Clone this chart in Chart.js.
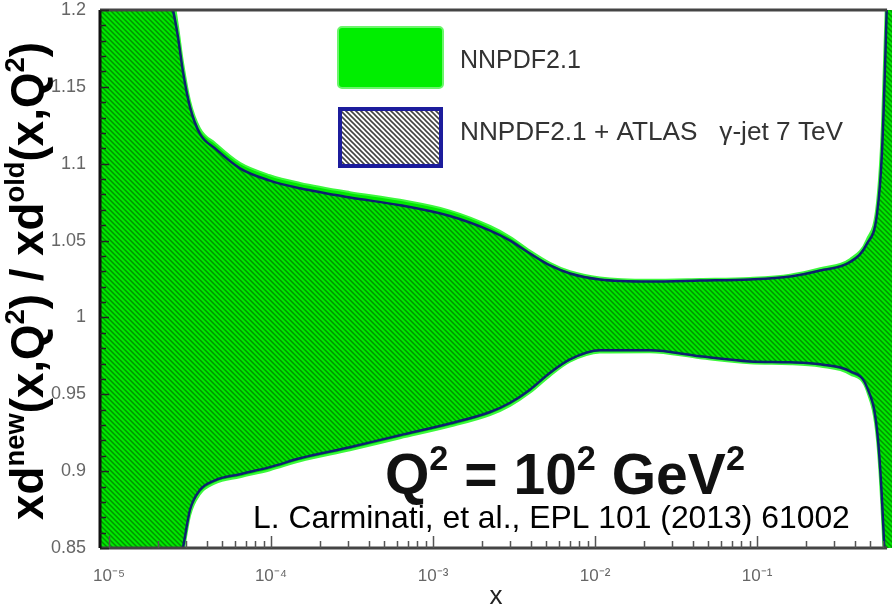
<!DOCTYPE html>
<html lang="en">
<head>
  <meta charset="UTF-8">
  <title>xd ratio NNPDF2.1 + ATLAS</title>
  <script src="https://cdn.jsdelivr.net/npm/chart.js"></script>
  <style>
    body { margin: 0; background: #fff; }
    #wrap { width: 892px; height: 614px; position: relative; }
  </style>
</head>
<body>
  <div id="wrap"><canvas id="ratioChart"></canvas></div>

  <script>
    // x grid shared by all four band edges
    const xPoints = [8.8e-6, 1.79e-5, 2.21e-5, 2.48e-5, 2.66e-5, 2.86e-5, 3.16e-5, 3.64e-5, 4.51e-5, 6.43e-5,
      9.84e-5, 1.51e-4, 3.07e-4, 6.25e-4, 1.27e-3, 2.25e-3, 2.99e-3, 3.96e-3, 5.27e-3, 7.0e-3,
      0.0107, 0.0218, 0.0445, 0.0904, 0.160, 0.245, 0.375, 0.477, 0.550, 0.590, 0.634, 0.68];

    // NNPDF2.1 + ATLAS (hatched)
    const hatchUpper = [1.45, 1.40, 1.22, 1.20, 1.183, 1.160, 1.137, 1.1195, 1.110, 1.097,
      1.089, 1.084, 1.078, 1.073, 1.066, 1.0565, 1.050, 1.0416, 1.0338, 1.0286,
      1.0247, 1.0234, 1.024, 1.0247, 1.0266, 1.0305, 1.036, 1.048, 1.0675, 1.108, 1.21, 1.35];
    const hatchLower = [0.60, 0.65, 0.72, 0.80, 0.835, 0.85, 0.8747, 0.8877, 0.894, 0.898,
      0.9026, 0.9084, 0.9156, 0.9234, 0.931, 0.9385, 0.9445, 0.953, 0.964, 0.9727,
      0.9786, 0.9786, 0.9747, 0.9714, 0.9708, 0.9695, 0.965, 0.9545, 0.9266, 0.881, 0.80, 0.65];

    // NNPDF2.1 (solid green)
    const greenUpper = [1.45, 1.40, 1.23, 1.21, 1.19, 1.166, 1.141, 1.123, 1.1135, 1.1005,
      1.0925, 1.0875, 1.0815, 1.0765, 1.0695, 1.0595, 1.0525, 1.0435, 1.0355, 1.0300,
      1.0260, 1.0245, 1.0250, 1.0257, 1.0278, 1.0320, 1.038, 1.051, 1.075, 1.125, 1.23, 1.35];
    const greenLower = [0.60, 0.65, 0.71, 0.79, 0.828, 0.845, 0.871, 0.885, 0.892, 0.896,
      0.9006, 0.9064, 0.9136, 0.9214, 0.929, 0.9365, 0.9425, 0.951, 0.962, 0.9712,
      0.9772, 0.9774, 0.9735, 0.9702, 0.9696, 0.968, 0.963, 0.952, 0.920, 0.870, 0.79, 0.65];

    const xTickValues = [1e-5, 1e-4, 1e-3, 1e-2, 1e-1];
    const xTickLabels = ['10⁻⁵', '10⁻⁴', '10⁻³', '10⁻²', '10⁻¹'];
    const yTickValues = [0.85, 0.9, 0.95, 1, 1.05, 1.1, 1.15, 1.2];
    const legendLabels = ['NNPDF2.1', 'NNPDF2.1 + ATLAS   γ-jet 7 TeV'];
    const frameEndX = 0.634;   // top axis line stops here, the band runs on to the edge

    const FONT = "'Liberation Sans', Arial, sans-serif";
    const canvas = document.getElementById('ratioChart');
    const ctx0 = canvas.getContext('2d');

    function makeHatch(bg, line, width) {
      const c = document.createElement('canvas');
      c.width = c.height = 5;
      const g = c.getContext('2d');
      if (bg) { g.fillStyle = bg; g.fillRect(0, 0, 5, 5); }
      g.strokeStyle = line;
      g.lineWidth = width;
      g.beginPath();
      g.moveTo(-1, -1); g.lineTo(6, 6);
      g.moveTo(-1, 4); g.lineTo(1, 6);
      g.moveTo(4, -1); g.lineTo(6, 1);
      g.stroke();
      return ctx0.createPattern(c, 'repeat');
    }
    const bandHatch = makeHatch(null, 'rgba(0,50,0,0.45)', 1.5);
    const legendHatch = makeHatch('#fff', 'rgba(20,20,20,0.8)', 1.6);

    const toPts = ys => xPoints.map((x, i) => ({ x: x, y: ys[i] }));

    // rich text with superscripts: parts = [[text, isSup], ...]
    function richWidth(ctx, parts, size, weight) {
      let w = 0;
      parts.forEach(p => {
        ctx.font = weight + ' ' + (p[1] ? size * 0.6 : size) + 'px ' + FONT;
        w += ctx.measureText(p[0]).width;
      });
      return w;
    }
    function drawRich(ctx, parts, x, y, size, weight) {
      parts.forEach(p => {
        ctx.font = weight + ' ' + (p[1] ? size * 0.6 : size) + 'px ' + FONT;
        ctx.fillText(p[0], x, p[1] ? y - size * 0.42 : y);
        x += ctx.measureText(p[0]).width;
      });
    }

    const overlay = {
      id: 'overlay',
      afterDraw(chart) {
        const { ctx, chartArea: a, scales: { x, y } } = chart;
        const right = x.getPixelForValue(frameEndX);
        ctx.save();

        // frame
        ctx.lineCap = 'butt';
        ctx.strokeStyle = '#444';
        ctx.lineWidth = 3;
        ctx.beginPath();
        ctx.moveTo(a.left, a.top); ctx.lineTo(right, a.top);
        ctx.moveTo(a.left, a.bottom); ctx.lineTo(right, a.bottom);
        ctx.stroke();
        ctx.strokeStyle = '#111';
        ctx.beginPath();
        ctx.moveTo(a.left, a.top); ctx.lineTo(a.left, a.bottom);
        ctx.stroke();

        // inward ticks
        ctx.lineWidth = 1.5;
        ctx.strokeStyle = '#222';
        ctx.beginPath();
        for (let k = 85; k <= 120; k++) {
          const py = Math.round(y.getPixelForValue(k / 100)) + 0.5;
          ctx.moveTo(a.left, py);
          ctx.lineTo(a.left + (k % 5 === 0 ? 9 : 6), py);
        }
        ctx.stroke();
        ctx.strokeStyle = '#555';
        ctx.beginPath();
        for (let d = -5; d <= -1; d++) {
          for (let m = 1; m <= 9; m++) {
            const v = m * Math.pow(10, d);
            if (v < x.min || v > frameEndX) continue;
            const px = Math.round(x.getPixelForValue(v)) + 0.5;
            ctx.moveTo(px, a.bottom);
            ctx.lineTo(px, a.bottom - (m === 1 ? 12 : 7));
          }
        }
        ctx.stroke();

        // legend
        ctx.fillStyle = '#00ee00';
        ctx.strokeStyle = '#6cf56c';
        ctx.lineWidth = 2;
        ctx.beginPath();
        ctx.roundRect(338, 27, 105, 61, 4);
        ctx.fill();
        ctx.stroke();
        ctx.fillStyle = legendHatch;
        ctx.fillRect(338, 107, 105, 61);
        ctx.strokeStyle = '#1c1c9c';
        ctx.lineWidth = 4;
        ctx.strokeRect(340, 109, 101, 57);

        ctx.fillStyle = '#333';
        ctx.textBaseline = 'middle';
        ctx.textAlign = 'left';
        ctx.font = '25px ' + FONT;
        ctx.fillText(legendLabels[0], 460, 61);
        const w2 = ctx.measureText(legendLabels[1]).width;
        ctx.font = (25 * 383 / w2).toFixed(2) + 'px ' + FONT;
        ctx.fillText(legendLabels[1], 460, 133);

        // Q^2 label
        ctx.fillStyle = '#111';
        ctx.textBaseline = 'alphabetic';
        const qParts = [['Q'], ['2', 1], [' = 10'], ['2', 1], [' GeV'], ['2', 1]];
        const qSize = 44 * 360 / richWidth(ctx, qParts, 44, 'bold');
        drawRich(ctx, qParts, 385, 494, qSize, 'bold');

        // citation
        const cite = 'L. Carminati, et al., EPL 101 (2013) 61002';
        ctx.font = '26px ' + FONT;
        const cw = ctx.measureText(cite).width;
        ctx.font = (26 * 597 / cw).toFixed(2) + 'px ' + FONT;
        ctx.fillStyle = '#000';
        ctx.fillText(cite, 253, 528);

        // y title
        const tParts = [['xd'], ['new', 1], ['(x,Q'], ['2', 1], [') / xd'], ['old', 1], ['(x,Q'], ['2', 1], [')']];
        const tSize = 26 * 478 / richWidth(ctx, tParts, 26, 'bold');
        const tw = richWidth(ctx, tParts, tSize, 'bold');
        ctx.translate(30, (a.top + a.bottom) / 2 + 2);
        ctx.rotate(-Math.PI / 2);
        ctx.fillStyle = '#000';
        drawRich(ctx, tParts, -tw / 2, 13, tSize, 'bold');

        ctx.restore();
      }
    };

    const bandLine = {
      pointRadius: 0,
      cubicInterpolationMode: 'monotone',
      clip: 0
    };

    new Chart(canvas, {
      type: 'line',
      data: {
        datasets: [
          Object.assign({
            label: 'NNPDF2.1 + ATLAS lower',
            data: toPts(hatchLower),
            borderColor: '#0d2070',
            borderWidth: 2.5,
            fill: false
          }, bandLine),
          Object.assign({
            label: 'NNPDF2.1 + ATLAS upper',
            data: toPts(hatchUpper),
            borderColor: '#0d2070',
            borderWidth: 2.5,
            fill: 0,
            backgroundColor: bandHatch
          }, bandLine),
          Object.assign({
            label: 'NNPDF2.1 lower',
            data: toPts(greenLower),
            borderColor: '#3cf83c',
            borderWidth: 2,
            fill: false
          }, bandLine),
          Object.assign({
            label: 'NNPDF2.1 upper',
            data: toPts(greenUpper),
            borderColor: '#3cf83c',
            borderWidth: 2,
            fill: 2,
            backgroundColor: '#00e800'
          }, bandLine)
        ]
      },
      options: {
        responsive: true,
        maintainAspectRatio: false,
        animation: false,
        layout: { padding: { top: 10, right: 0, left: 0, bottom: 0 } },
        plugins: {
          legend: { display: false },
          tooltip: { enabled: false }
        },
        scales: {
          x: {
            type: 'logarithmic',
            min: 8.8e-6,
            max: 0.68,
            afterBuildTicks: s => { s.ticks = xTickValues.map(v => ({ value: v })); },
            afterFit: s => { s.height = 66; s.paddingLeft = 0; s.paddingRight = 0; },
            ticks: {
              autoSkip: false,
              maxRotation: 0,
              padding: 10,
              color: '#666',
              font: { family: FONT, size: 17 },
              callback: (v, i) => xTickLabels[i]
            },
            grid: { display: false },
            border: { display: false },
            title: {
              display: true,
              text: 'x',
              color: '#222',
              font: { family: FONT, size: 26 },
              padding: { top: 0, bottom: 2 }
            }
          },
          y: {
            min: 0.85,
            max: 1.2,
            afterBuildTicks: s => { s.ticks = yTickValues.map(v => ({ value: v })); },
            afterFit: s => { s.width = 100; s.paddingTop = 0; s.paddingBottom = 0; },
            ticks: {
              padding: 6,
              color: '#666',
              font: { family: FONT, size: 18 },
              callback: v => String(+v.toFixed(2))
            },
            grid: { display: false },
            border: { display: false }
          }
        }
      },
      plugins: [overlay]
    });
  </script>
</body>
</html>
